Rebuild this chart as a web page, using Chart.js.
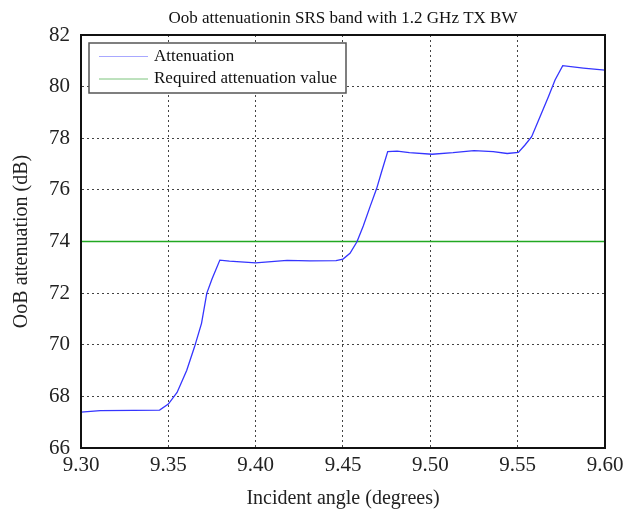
<!DOCTYPE html>
<html lang="en">
<head>
  <meta charset="UTF-8">
  <title>OoB attenuation</title>
  <style>
    body {
      margin: 0;
      background: #fff;
    }

    .wrap {
      width: 623px;
      height: 511px;
    }
  </style>
</head>
<body>

<div class="wrap">
  <canvas id="oobChart" width="623" height="511"></canvas>
</div>

<script src="https://cdn.jsdelivr.net/npm/chart.js"></script>
<script>
  // Incident angle (degrees) and the attenuation measured at each angle (dB)
  const angleDeg = [
    9.300, 9.311, 9.330, 9.345, 9.350, 9.355, 9.3605, 9.365, 9.369, 9.372,
    9.375, 9.3795, 9.385, 9.400, 9.418, 9.431, 9.446, 9.450, 9.454, 9.458,
    9.4616, 9.4655, 9.4693, 9.4721, 9.4756, 9.481, 9.488, 9.501, 9.513, 9.525,
    9.536, 9.544, 9.5504, 9.5542, 9.558, 9.5628, 9.5676, 9.5714, 9.5758, 9.5876,
    9.600
  ];
  const attenuationDb = [
    67.39, 67.45, 67.46, 67.47, 67.70, 68.15, 69.00, 69.92, 70.83, 71.99,
    72.55, 73.28, 73.24, 73.17, 73.27, 73.25, 73.26, 73.32, 73.54, 73.99,
    74.60, 75.35, 76.06, 76.70, 77.48, 77.50, 77.44, 77.38, 77.44, 77.52,
    77.48, 77.41, 77.45, 77.74, 78.06, 78.83, 79.61, 80.26, 80.81, 80.72,
    80.64
  ];

  // Required attenuation limit, drawn across the whole angle range
  const requiredDb = 74;
  const requiredRange = [9.30, 9.60];

  // Axis ticks
  const xTicks = [9.30, 9.35, 9.40, 9.45, 9.50, 9.55, 9.60];
  const yTicks = [66, 68, 70, 72, 74, 76, 78, 80, 82];

  const serif = "'Liberation Serif', 'DejaVu Serif', serif";

  // Legend box inside the plot, top-left corner
  const boxLegend = {
    id: 'boxLegend',
    afterDraw(chart) {
      const ctx = chart.ctx;
      const area = chart.chartArea;
      const x = area.left + 8, y = area.top + 8;
      const w = 257, h = 50;
      ctx.save();
      ctx.fillStyle = '#fff';
      ctx.fillRect(x, y, w, h);
      ctx.strokeStyle = '#555';
      ctx.lineWidth = 1.5;
      ctx.strokeRect(x, y, w, h);
      ctx.font = '17px ' + serif;
      ctx.textBaseline = 'middle';
      chart.data.datasets.forEach((ds, i) => {
        const cy = y + 13.5 + i * 22.5;
        ctx.strokeStyle = ds.legendColor;
        ctx.lineWidth = 1;
        ctx.beginPath();
        ctx.moveTo(x + 10, cy);
        ctx.lineTo(x + 59, cy);
        ctx.stroke();
        ctx.fillStyle = '#111';
        ctx.fillText(ds.label, x + 65, cy);
      });
      ctx.restore();
    }
  };

  // Closed black frame around the plot area
  const plotFrame = {
    id: 'plotFrame',
    afterDatasetsDraw(chart) {
      const ctx = chart.ctx;
      const a = chart.chartArea;
      ctx.save();
      ctx.strokeStyle = '#111';
      ctx.lineWidth = 2;
      ctx.strokeRect(a.left, a.top, a.right - a.left, a.bottom - a.top);
      ctx.restore();
    }
  };

  const ctx = document.getElementById('oobChart').getContext('2d');

  new Chart(ctx, {
    type: 'line',
    data: {
      datasets: [
        {
          label: 'Attenuation',
          data: angleDeg.map((a, i) => ({ x: a, y: attenuationDb[i] })),
          borderColor: '#3535ff',
          legendColor: '#a8a8ff',
          borderWidth: 1.3,
          pointRadius: 0,
          tension: 0
        },
        {
          label: 'Required attenuation value',
          data: requiredRange.map(a => ({ x: a, y: requiredDb })),
          borderColor: '#22a822',
          legendColor: '#7cc47c',
          borderWidth: 1.5,
          pointRadius: 0
        }
      ]
    },
    options: {
      responsive: false,
      animation: false,
      layout: { padding: { left: 0, right: 18, top: 0, bottom: 0 } },
      plugins: {
        legend: { display: false },
        tooltip: { enabled: false },
        title: {
          display: true,
          fullSize: false,
          text: 'Oob attenuationin SRS band with 1.2 GHz TX BW',
          color: '#111',
          font: { family: serif, size: 17, weight: 'normal' },
          padding: { top: 8, bottom: 6.6 }
        }
      },
      scales: {
        x: {
          type: 'linear',
          min: 9.30,
          max: 9.60,
          afterBuildTicks: s => { s.ticks = xTicks.map(v => ({ value: v })); },
          // the last label may run off the right edge, like the original plot
          afterFit: s => { s.height = 63; s.paddingRight = 0; s.paddingLeft = 0; },
          ticks: {
            color: '#222',
            font: { family: serif, size: 21 },
            padding: 5,
            maxRotation: 0,
            callback: v => v.toFixed(2)
          },
          grid: { color: '#444', lineWidth: 1, drawTicks: false },
          border: { display: true, color: '#111', width: 2, dash: [2, 3] },
          title: {
            display: true,
            text: 'Incident angle (degrees)',
            color: '#222',
            font: { family: serif, size: 20 },
            padding: { top: 0, bottom: 0 }
          }
        },
        y: {
          min: 66,
          max: 82,
          afterBuildTicks: s => { s.ticks = yTicks.map(v => ({ value: v })); },
          afterFit: s => { s.width = 81; },
          ticks: {
            color: '#222',
            font: { family: serif, size: 21 },
            padding: 11
          },
          grid: { color: '#444', lineWidth: 1, drawTicks: false },
          border: { display: true, color: '#111', width: 2, dash: [2, 3] },
          title: {
            display: true,
            text: 'OoB attenuation (dB)',
            color: '#222',
            font: { family: serif, size: 20 },
            padding: { top: 10, bottom: 0 }
          }
        }
      }
    },
    plugins: [plotFrame, boxLegend]
  });
</script>
</body>
</html>
